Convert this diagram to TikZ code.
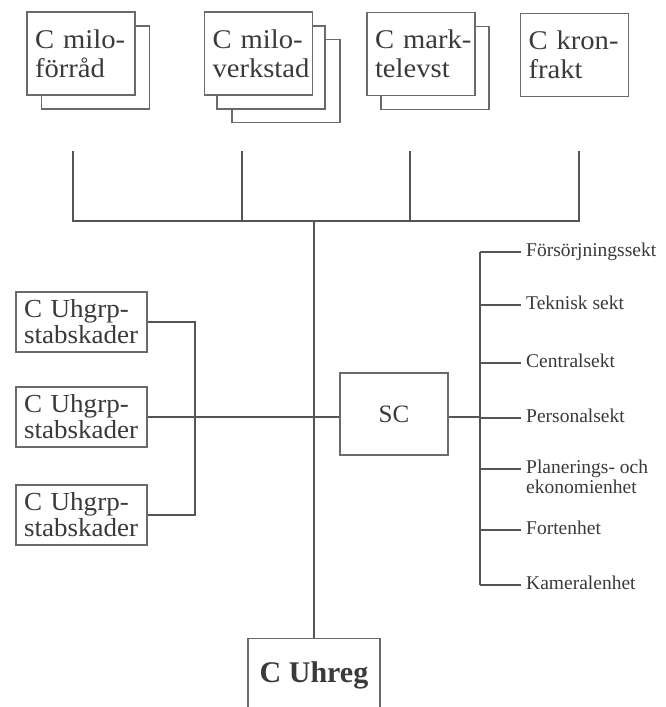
\documentclass[tikz,border=0pt]{standalone}
\usepackage{fontspec}
\setmainfont{Liberation Serif}
\definecolor{ln}{HTML}{555555}
\definecolor{bx}{HTML}{6A6A6A}
\definecolor{txt}{HTML}{3A3A3A}
\begin{document}
\begin{tikzpicture}[x=1pt,y=-1pt,
  box/.style={draw=bx, line width=1.1pt, fill=white, inner sep=0pt},
  topbox/.style={box, minimum width=108pt, minimum height=83pt, text width=92pt, align=left,
    font=\fontsize{27}{29}\selectfont\addfontfeature{FakeStretch=1.06}, text=txt},
  backbox/.style={box, minimum width=108pt, minimum height=83pt},
  leftbox/.style={box, minimum width=131pt, minimum height=60pt, text width=115pt, align=left,
    font=\fontsize{26}{26}\selectfont\addfontfeature{FakeStretch=1.04}, text=txt},
  conn/.style={draw=ln, line width=1.7pt},
  lab/.style={anchor=base west, inner sep=0pt, font=\fontsize{19.5}{20}\selectfont, text=txt}
]
\useasboundingbox (0,0) rectangle (665,707);
\clip (0,0) rectangle (665,707);
\fill[white] (0,0) rectangle (665,707);

% top boxes (stacked)
\node[backbox] (b1a) at (95.5,67.5) {};
\node[topbox] (b1) at (81,53.5) {\mbox{C milo-}\\\mbox{förråd}};
\node[backbox] (b2b) at (286,81) {};
\node[backbox] (b2a) at (271,67.5) {};
\node[topbox] (b2) at (258.5,53.5) {\mbox{C milo-}\\\mbox{verkstad}};
\node[backbox] (b3a) at (435,68) {};
\node[topbox] (b3) at (421,54) {\mbox{C mark-}\\\mbox{televst}};
\node[topbox] (b4) at (574.5,55) {\mbox{C kron-}\\\mbox{frakt}};

% top connectors
\coordinate (v1) at (73,151);
\coordinate (v2) at (242,151);
\coordinate (v3) at (410,151);
\coordinate (v4) at (579,151);
\coordinate (j) at (314,221);
\draw[conn] (v1) |- (j) -| (v4);
\draw[conn] (v2) -- (v2 |- j);
\draw[conn] (v3) -- (v3 |- j);

% bottom box
\node[box, anchor=north, minimum width=132pt, inner ysep=0pt, text height=44pt, text depth=40pt,
  font=\bfseries\fontsize{30}{30}\selectfont, text=txt] (uhreg) at (314,638) {C Uhreg};
\draw[conn] (j) -- (uhreg.north);

% left boxes
\node[leftbox] (l1) at (81.5,322) {\mbox{C Uhgrp-}\\\mbox{stabskader}};
\node[leftbox] (l2) at (81.5,417) {\mbox{C Uhgrp-}\\\mbox{stabskader}};
\node[leftbox] (l3) at (81.5,515) {\mbox{C Uhgrp-}\\\mbox{stabskader}};
\coordinate (bk) at (195,417);

% SC
\node[box, minimum width=108pt, minimum height=82pt, font=\fontsize{25}{25}\selectfont, text=txt] (sc) at (394,414) {SC};

\draw[conn] (l1.east) -| (bk) |- (l3.east);
\draw[conn] (l2.east) -- (l2.east -| sc.west);

% right side
\coordinate (r1) at (521,252);
\coordinate (r2) at (521,305);
\coordinate (r3) at (521,363);
\coordinate (r4) at (521,418);
\coordinate (r5) at (521,469);
\coordinate (r6) at (521,530);
\coordinate (r7) at (521,585);
\coordinate (rv) at (480,417);
\node[lab] (t1) at (526,256.5) {Försörjningssekt};
\node[lab] (t2) at (526,309.5) {Teknisk sekt};
\node[lab] (t3) at (526,367.5) {Centralsekt};
\node[lab] (t4) at (526,422.5) {Personalsekt};
\node[lab] (t5) at (526,473.5) {\begin{tabular}[t]{@{}l@{}}Planerings- och\\ekonomienhet\end{tabular}};
\node[lab] (t6) at (526,534.5) {Fortenhet};
\node[lab] (t7) at (526,589.5) {Kameralenhet};

\draw[conn] (sc.east |- rv) -- (rv);
\draw[conn] (rv |- r1) -- (rv |- r7);
\foreach \r in {r1,r2,r3,r4,r5,r6,r7} {\draw[conn] (rv |- \r) -- (\r);}
\end{tikzpicture}
\end{document}
